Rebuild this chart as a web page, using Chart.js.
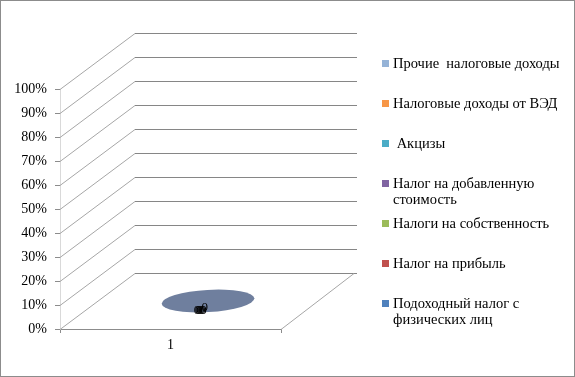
<!doctype html>
<html>
<head>
<meta charset="UTF-8">
<title>Налоговые доходы</title>
<script src="https://cdn.jsdelivr.net/npm/chart.js@4.4.1/dist/chart.umd.min.js"></script>
<style>
  body { margin: 0; background: #fff; }
  #wrap { position: relative; width: 575px; height: 377px; box-sizing: border-box; border: 1px solid #8c8c8c; }
  #chart { position: absolute; left: 0; top: 0; }
  #legend { position: absolute; left: 381px; top: 54px; width: 188px; font-family: "Liberation Serif", "Times New Roman", serif; font-size: 14.5px; line-height: 16px; color: #000; }
  .item { position: relative; height: 40px; padding-left: 11px; }
  .box { position: absolute; left: 0; top: 5px; width: 7px; height: 7px; }
</style>
</head>
<body>
<div id="wrap">
  <canvas id="chart" width="575" height="377"></canvas>
  <div id="legend"></div>
</div>
<script>
const categories = ['1'];
const seriesNames = [
  'Подоходный налог с физических лиц',
  'Налог на прибыль',
  'Налоги на собственность',
  'Налог на добавленную стоимость',
  ' Акцизы',
  'Налоговые доходы от ВЭД',
  'Прочие  налоговые доходы'
];
const seriesValues = [[0], [0], [0], [0], [0], [0], [0]];
const seriesColors = ['#4f81bd', '#c0504d', '#9bbb59', '#8064a2', '#4bacc6', '#f79646', '#95b3d7'];
const yTicks = [0, 10, 20, 30, 40, 50, 60, 70, 80, 90, 100];

const FONT = '"Liberation Serif", "Times New Roman", serif';
const DEPTH_X = 75, DEPTH_Y = -56;

// 100% stacked: share of each series in the category total
const totals = categories.map((c, i) => seriesValues.reduce((s, v) => s + v[i], 0));
const shares = seriesValues.map(v => v.map((x, i) => totals[i] ? x / totals[i] * 100 : 0));

// legend, top entry = last series
const legend = document.getElementById('legend');
for (let i = seriesNames.length - 1; i >= 0; i--) {
  const it = document.createElement('div');
  it.className = 'item';
  it.innerHTML = '<span class="box" style="background:' + seriesColors[i] + '"></span>';
  it.appendChild(document.createTextNode(seriesNames[i]));
  it.style.whiteSpace = 'pre-wrap';
  legend.appendChild(it);
}

const wall3d = {
  id: 'wall3d',
  beforeDatasetsDraw(chart) {
    const { ctx, chartArea: a, scales: { y } } = chart;
    ctx.save();
    ctx.lineWidth = 1;
    yTicks.forEach(v => {
      const py = Math.round(y.getPixelForValue(v)) + 0.5;
      // side wall diagonal
      ctx.strokeStyle = '#a6a6a6';
      ctx.beginPath();
      ctx.moveTo(a.left, py);
      ctx.lineTo(a.left + DEPTH_X, py + DEPTH_Y);
      ctx.stroke();
      // back wall gridline
      ctx.strokeStyle = '#868686';
      ctx.beginPath();
      ctx.moveTo(a.left + DEPTH_X, py + DEPTH_Y);
      ctx.lineTo(a.right + DEPTH_X + 1, py + DEPTH_Y);
      ctx.stroke();
    });
    // floor right edge
    const p0 = Math.round(y.getPixelForValue(0)) + 0.5;
    ctx.strokeStyle = '#a6a6a6';
    ctx.beginPath();
    ctx.moveTo(a.right, p0);
    ctx.lineTo(a.right + DEPTH_X - 2, p0 + DEPTH_Y);
    ctx.stroke();
    ctx.restore();
  },
  afterDatasetsDraw(chart) {
    const { ctx } = chart;
    const n = chart.data.datasets.length;
    const top = chart.getDatasetMeta(n - 1).data[0];
    const cx = top.x + DEPTH_X / 2;
    const cy = top.y + DEPTH_Y / 2;
    ctx.save();
    ctx.fillStyle = '#6f7f9e';
    ctx.beginPath();
    ctx.ellipse(cx, cy, top.width / 2, top.width * 0.12, -0.06, 0, Math.PI * 2);
    ctx.fill();
    // data labels
    ctx.fillStyle = '#000';
    ctx.font = '13px ' + FONT;
    ctx.textAlign = 'center';
    ctx.textBaseline = 'middle';
    chart.data.datasets.forEach((ds, i) => {
      const el = chart.getDatasetMeta(i).data[0];
      const lx = el.x + DEPTH_X / 2 - 11 + i * 1.3;
      const ly = el.y + DEPTH_Y / 2 + (i === n - 1 ? 7 : 10);
      ctx.fillText(String(seriesValues[i][0]), lx, ly);
    });
    ctx.restore();
  }
};

new Chart(document.getElementById('chart'), {
  type: 'bar',
  data: {
    labels: categories,
    datasets: seriesNames.map((name, i) => ({
      label: name,
      data: shares[i],
      backgroundColor: seriesColors[i],
      borderWidth: 0,
      categoryPercentage: 1,
      barPercentage: 0.42
    }))
  },
  options: {
    responsive: false,
    animation: false,
    layout: { padding: { left: 0, right: 295, top: 88, bottom: 19 } },
    plugins: { legend: { display: false }, tooltip: { enabled: false } },
    scales: {
      x: {
        stacked: true,
        grid: { drawOnChartArea: false, tickLength: 4, color: '#8c8c8c' },
        border: { color: '#8c8c8c' },
        ticks: { color: '#000', font: { family: FONT, size: 14 }, padding: 4 },
        afterFit(s) { s.height = 30; }
      },
      y: {
        stacked: true,
        min: 0,
        max: 100,
        afterBuildTicks(s) { s.ticks = yTicks.map(v => ({ value: v })); },
        grid: { drawOnChartArea: false, tickLength: 5, color: '#8c8c8c' },
        border: { color: '#d9d9d9' },
        ticks: { color: '#000', font: { family: FONT, size: 14 }, padding: 8, callback: v => v + '%' },
        afterFit(s) { s.width = 59; }
      }
    }
  },
  plugins: [wall3d]
});
</script>
</body>
</html>
